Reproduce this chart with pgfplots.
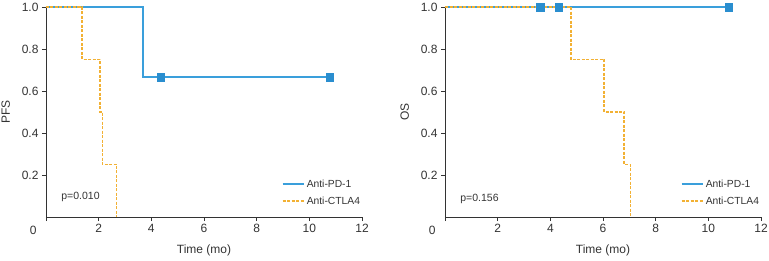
\documentclass[border=0pt]{standalone}
\usepackage{fontspec}
\setmainfont{Liberation Sans}
\usepackage{pgfplots}
\pgfplotsset{compat=1.18}
\definecolor{pdblue}{HTML}{3A9FDB}
\definecolor{pdmark}{HTML}{2A8ECF}
\definecolor{ctorange}{HTML}{F2B134}
\definecolor{axgray}{HTML}{333333}
\pgfplotsset{
  km/.style={
    scale only axis, width=316pt, height=210pt,
    xmin=0, xmax=12, ymin=0, ymax=1,
    axis x line=bottom, axis y line=left,
    axis line style={-, axgray, line width=0.8pt},
    tick style={axgray, line width=0.8pt},
    tick align=outside, major tick length=4pt,
    xtick={0,2,4,6,8,10,12}, xticklabels={,2,4,6,8,10,12},
    ytick={0.2,0.4,0.6,0.8,1.0},
    yticklabel style={/pgf/number format/fixed, /pgf/number format/fixed zerofill, /pgf/number format/precision=1},
    /pgf/number format/assume math mode=true,
    tick label style={font=\fontsize{12}{14}\selectfont, text=axgray},
    label style={font=\fontsize{12}{14}\selectfont, text=axgray},
    xlabel={Time (mo)},
    xlabel style={yshift=-5pt},
    clip=false,
    legend style={draw=none, fill=none, at={(1,0.045)}, anchor=south east,
      font=\fontsize{10.3}{12}\selectfont, text=axgray, row sep=4pt,
      inner sep=0pt, outer sep=0pt},
    legend cell align=left,
    legend image code/.code={\draw[#1] (0cm,0cm) -- (0.75cm,0cm);},
  },
  pdline/.style={color=pdblue, line width=1.7pt, const plot, no marks, solid},
  ctline/.style={color=ctorange, line width=1.7pt, const plot, no marks, dash pattern=on 3pt off 1.5pt},
  cens/.style={only marks, mark=square*, mark size=3.8pt, mark options={fill=pdmark, draw=pdmark, solid}},
}
\begin{document}
\begin{tikzpicture}
\path[use as bounding box] (0pt,0pt) rectangle (769pt,260pt);
\begin{axis}[km, at={(46pt,43pt)}, anchor=south west, ylabel={PFS}, ylabel style={yshift=5pt}]
\addplot[pdline] coordinates {(0,1) (3.68,0.667) (10.78,0.667)};
\addlegendentry{Anti-PD-1}
\addplot[ctline] coordinates {(0,1) (1.37,0.75) (2.05,0.5) (2.14,0.25) (2.68,0) (2.68,0)};
\addlegendentry{Anti-CTLA4}
\addplot[cens, forget plot] coordinates {(4.35,0.667) (10.78,0.667)};
\node[anchor=west, font=\fontsize{10.5}{12}\selectfont, text=axgray] at (axis cs:0.45,0.095) {p=0.010};
\node[anchor=north east, font=\fontsize{12}{14}\selectfont, text=axgray] at (rel axis cs:0,0) [xshift=-6pt, yshift=-6pt] {0};
\end{axis}
\begin{axis}[km, at={(445pt,43pt)}, anchor=south west, ylabel={OS}, ylabel style={yshift=5pt}]
\addplot[pdline] coordinates {(0,1) (10.77,1)};
\addlegendentry{Anti-PD-1}
\addplot[ctline] coordinates {(0,1) (4.78,0.75) (6.04,0.5) (6.81,0.25) (7.04,0) (7.04,0)};
\addlegendentry{Anti-CTLA4}
\addplot[cens, forget plot] coordinates {(3.61,1) (4.31,1) (10.77,1)};
\node[anchor=west, font=\fontsize{10.5}{12}\selectfont, text=axgray] at (axis cs:0.45,0.085) {p=0.156};
\node[anchor=north east, font=\fontsize{12}{14}\selectfont, text=axgray] at (rel axis cs:0,0) [xshift=-6pt, yshift=-6pt] {0};
\end{axis}
\end{tikzpicture}
\end{document}
